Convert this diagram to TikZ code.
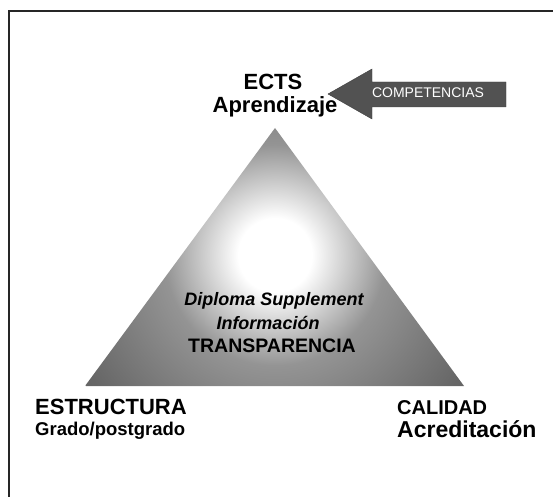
\documentclass[tikz,border=0pt]{standalone}
\usepackage{fontspec}
\setmainfont{Liberation Sans}
\pgfdeclareradialshading{trishade}{\pgfpoint{0bp}{0bp}}{color(0bp)=(white); color(4bp)=(white); color(12bp)=(black!42); color(24bp)=(black!60); color(50bp)=(black!75)}
\begin{document}
\begin{tikzpicture}[x=1pt,y=-1pt,
  lbl/.style={inner sep=0pt, anchor=base, text=black},
  big/.style={lbl, font=\bfseries\fontsize{22}{24}\selectfont},
  mid/.style={lbl, font=\bfseries\fontsize{18.5}{20}\selectfont},
  inner/.style={lbl, font=\bfseries\itshape\fontsize{18}{20}\selectfont, text=black},
  arrowfill/.style={fill=black!68, draw=black!75, line width=0.4pt},
  frame/.style={line width=1.5pt, draw=black!85}]
\useasboundingbox (0,0) rectangle (553,497);
% frame
\draw[frame] (553,11) -- (9,11) -- (9,497);
% triangle
\coordinate (apex) at (275,128);
\coordinate (bl) at (85,386);
\coordinate (br) at (464,386);
\begin{scope}
  \clip (apex) -- (bl) -- (br) -- cycle;
  \shade[shading=trishade] (275,255) circle[radius=230pt];
\end{scope}
% arrow
\path[arrowfill] (328,94) -- (372,69) -- (372,82) -- (506,82) -- (506,107) -- (372,107) -- (372,119) -- cycle;
\node[lbl, font=\fontsize{14}{16}\selectfont, text=white] (comp) at (428,98) {COMPETENCIAS};
% labels
\node[big] (ects) at (273,90) {ECTS};
\node[big] (apr) at (275,113) {Aprendizaje};
\node[big, anchor=base west] (est) at (35,414) {ESTRUCTURA};
\node[mid, anchor=base west] (grado) at (35,435) {Grado/postgrado};
\node[lbl, font=\bfseries\fontsize{20}{22}\selectfont, anchor=base west] (cal) at (397,414) {CALIDAD};
\node[lbl, font=\bfseries\fontsize{23}{25}\selectfont, anchor=base west] (acr) at (397,437) {Acreditación};
% inner texts
\node[inner] (dip) at (274,305) {Diploma Supplement};
\node[inner] (inf) at (268,329) {Información};
\node[lbl, font=\bfseries\fontsize{19.5}{21}\selectfont, text=black] (tra) at (272,352) {TRANSPARENCIA};
\end{tikzpicture}
\end{document}
